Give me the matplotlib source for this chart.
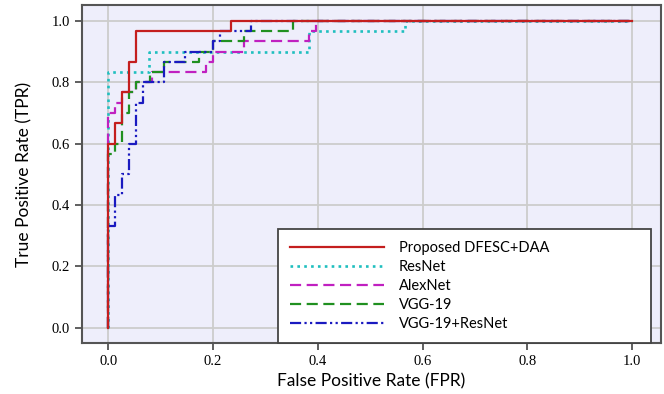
import matplotlib
matplotlib.use("Agg")
import matplotlib.pyplot as plt

# ROC corner points (fpr, tpr), drawn as post-steps
fpr_prop = [0, 0, 0.013, 0.027, 0.04, 0.053, 0.235, 1.0]
tpr_prop = [0, 0.6, 0.667, 0.767, 0.867, 0.967, 1.0, 1.0]

fpr_res = [0, 0, 0.077, 0.383, 0.567, 1.0]
tpr_res = [0, 0.833, 0.9, 0.967, 1.0, 1.0]

fpr_alex = [0, 0, 0.013, 0.027, 0.053, 0.083, 0.187, 0.2, 0.26, 0.383, 0.397, 1.0]
tpr_alex = [0, 0.7, 0.733, 0.767, 0.8, 0.833, 0.867, 0.9, 0.933, 0.967, 1.0, 1.0]

fpr_vgg = [0, 0, 0.013, 0.027, 0.04, 0.053, 0.08, 0.107, 0.173, 0.2, 0.26, 0.353, 1.0]
tpr_vgg = [0, 0.567, 0.6, 0.7, 0.767, 0.8, 0.833, 0.867, 0.9, 0.933, 0.967, 1.0, 1.0]

fpr_vr = [0, 0, 0.013, 0.027, 0.04, 0.053, 0.067, 0.107, 0.147, 0.2, 0.213, 0.273, 1.0]
tpr_vr = [0, 0.333, 0.433, 0.5, 0.6, 0.733, 0.8, 0.867, 0.9, 0.933, 0.967, 1.0, 1.0]

labels = ["Proposed DFESC+DAA", "ResNet", "AlexNet", "VGG-19", "VGG-19+ResNet"]
ticks = [0.0, 0.2, 0.4, 0.6, 0.8, 1.0]

fig = plt.figure(figsize=(6.64, 3.94), dpi=100)
ax = fig.add_axes([0.1235, 0.1294, 0.872, 0.858])
ax.set_facecolor("#eeeefb")

lw = 1.6
h1, = ax.plot(fpr_prop, tpr_prop, drawstyle="steps-post", color="#c41e1e", lw=lw, zorder=6)
h2, = ax.plot(fpr_res, tpr_res, drawstyle="steps-post", color="#1fbfbf", lw=lw + 0.3,
              linestyle=(0, (1, 1.6)), zorder=3)
h3, = ax.plot(fpr_alex, tpr_alex, drawstyle="steps-post", color="#c020c0", lw=lw,
              linestyle=(0, (5, 2.5)), zorder=3)
h4, = ax.plot(fpr_vgg, tpr_vgg, drawstyle="steps-post", color="#209020", lw=lw,
              linestyle=(0, (5, 2.5)), zorder=4)
h5, = ax.plot(fpr_vr, tpr_vr, drawstyle="steps-post", color="#1a1ac0", lw=lw,
              linestyle=(0, (5, 1.5, 1, 1.5, 1, 1.5)), zorder=5)

ax.set_xlim(-0.05, 1.055)
ax.set_ylim(-0.05, 1.052)
ax.set_xticks(ticks)
ax.set_yticks(ticks)
ax.set_xticklabels([f"{t:.1f}" for t in ticks], family="Liberation Serif", fontsize=10.5)
ax.set_yticklabels([f"{t:.1f}" for t in ticks], family="Liberation Serif", fontsize=10.5)
ax.grid(True, color="#cccccc", lw=1.3)
ax.set_axisbelow(True)
ax.tick_params(direction="out", length=5, width=1.2, color="#444444")
for s in ax.spines.values():
    s.set_color("#555555")
    s.set_linewidth(1.5)

ax.set_xlabel("False Positive Rate (FPR)", family="Lato", fontsize=12.5, labelpad=4)
ax.set_ylabel("True Positive Rate (TPR)", family="Lato", fontsize=12.5, labelpad=14)

leg = ax.legend([h1, h2, h3, h4, h5], labels, loc="lower left",
                bbox_to_anchor=(0.3385, 0.0, 0.644, 0.33), mode="expand",
                borderaxespad=0,
                prop={"family": "Lato", "size": 10.5}, handlelength=6.5,
                labelspacing=0.35, fancybox=False, framealpha=1,
                edgecolor="#444444", borderpad=0.8, handletextpad=1.0)
leg.get_frame().set_linewidth(1.3)
leg.set_zorder(10)

fig.savefig("out.png", dpi=100)
